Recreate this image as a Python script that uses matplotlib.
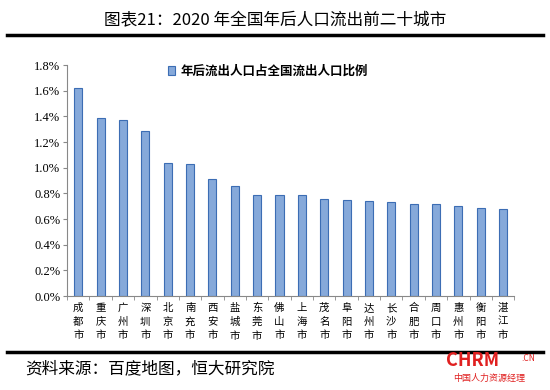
import numpy as np
import matplotlib.pyplot as plt
from matplotlib.lines import Line2D

plt.rcParams['font.family'] = ['Noto Sans CJK SC', 'DejaVu Sans']

cities = ['成都市', '重庆市', '广州市', '深圳市', '北京市', '南充市', '西安市', '盐城市', '东莞市', '佛山市',
          '上海市', '茂名市', '阜阳市', '达州市', '长沙市', '合肥市', '周口市', '惠州市', '衡阳市', '湛江市']
share = [1.62, 1.39, 1.37, 1.29, 1.04, 1.03, 0.91, 0.86, 0.79, 0.79,
         0.79, 0.76, 0.75, 0.74, 0.73, 0.72, 0.72, 0.70, 0.69, 0.68]
yticks = [0.0, 0.2, 0.4, 0.6, 0.8, 1.0, 1.2, 1.4, 1.6, 1.8]

fig = plt.figure(figsize=(5.5, 3.9), dpi=100)
ax = fig.add_axes([0.122, 0.241, 0.813, 0.592])

x = np.arange(len(cities))
ax.bar(x, share, width=0.36, color='#86A9DA', edgecolor='#3C6DB4', linewidth=0.8,
       label='年后流出人口占全国流出人口比例')

ax.set_xlim(-0.5, len(cities) - 0.5)
ax.set_ylim(0, 1.8)
ax.set_yticks(yticks)
ax.set_yticklabels(['%.1f%%' % v for v in yticks], family='Liberation Serif', fontsize=9)
ax.set_xticks(x)
ax.set_xticklabels(['\n'.join(c) for c in cities], fontsize=7.5, linespacing=1.45)
ax.tick_params(axis='x', length=0, pad=5)
ax.set_xticks(np.arange(-0.5, len(cities)), minor=True)
ax.tick_params(axis='x', which='minor', length=3, color='#888888')
ax.tick_params(axis='y', length=3, color='#888888', pad=2)
for s in ['top', 'right']:
    ax.spines[s].set_visible(False)
ax.spines['left'].set_color('#888888')
ax.spines['bottom'].set_color('#888888')

leg = ax.legend(loc='upper left', bbox_to_anchor=(0.2, 1.05), frameon=False, fontsize=9,
                handlelength=0.6, handleheight=0.8, handletextpad=0.4)
for t in leg.get_texts():
    t.set_fontweight('bold')

fig.text(0.5, 0.948, '图表21：2020 年全国年后人口流出前二十城市', ha='center', va='center', fontsize=12)
fig.add_artist(Line2D([0.013, 0.988], [0.91, 0.91], color='black', linewidth=2.5))
fig.add_artist(Line2D([0.013, 0.988], [0.097, 0.097], color='black', linewidth=2.5))
fig.text(0.045, 0.055, '资料来源：百度地图，恒大研究院', ha='left', va='center', fontsize=12, style='italic')
fig.text(0.86, 0.075, 'CHRM', ha='center', va='center', fontsize=13, color='#E02020', fontweight='bold')
fig.text(0.96, 0.082, '.CN', ha='center', va='center', fontsize=6, color='#E02020')
fig.text(0.89, 0.03, '中国人力资源经理', ha='center', va='center', fontsize=6.5, color='#E02020')

fig.savefig('out.png', dpi=100)
